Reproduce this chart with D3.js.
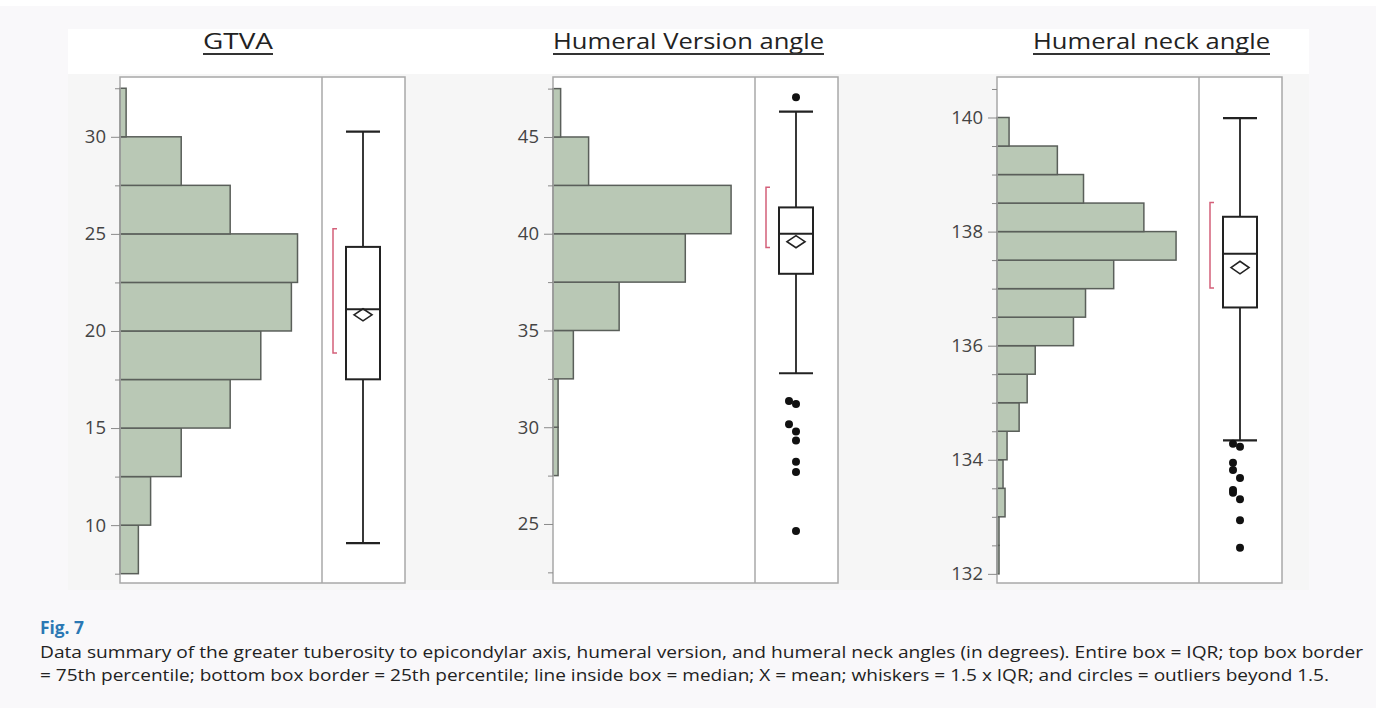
<!DOCTYPE html>
<html>

<head>
    <meta charset="utf-8">
    <script src="https://d3js.org/d3.v7.min.js"></script>
    <style type="text/css">
        body {
            margin: 0;
            background: #f9f8fa;
        }

        .tick text {
            font-family: "Open Sans", sans-serif;
            font-size: 18.5px;
            fill: #444;
        }

        .tick line {
            stroke: #8a8a8a;
        }

        .title {
            font-family: "Open Sans", sans-serif;
            font-size: 21px;
            fill: #222;
            text-anchor: middle;
        }

        .caption {
            font-family: "Open Sans", sans-serif;
            font-size: 16px;
            fill: #222;
        }
    </style>
</head>

<body>
    <div id="my_dataviz"></div>

    <script>
        // ---- data ----
        const titles = ["GTVA", "Humeral Version angle", "Humeral neck angle"];

        // histogram bins (lower edges, bottom -> top) and counts
        const gtvaEdges = [7.5, 10, 12.5, 15, 17.5, 20, 22.5, 25, 27.5, 30, 32.5];
        const gtvaCounts = [3, 5, 10, 18, 23, 28, 29, 18, 10, 1];
        const versionEdges = [27.5, 30, 32.5, 35, 37.5, 40, 42.5, 45, 47.5];
        const versionCounts = [2, 2, 8, 26, 52, 70, 14, 3];
        const neckEdges = [132, 132.5, 133, 133.5, 134, 134.5, 135, 135.5, 136, 136.5, 137, 137.5, 138, 138.5, 139, 139.5, 140];
        const neckCounts = [1, 1, 4, 3, 5, 11, 15, 19, 38, 44, 58, 89, 73, 43, 30, 6];

        // axis ticks
        const gtvaTicks = [10, 15, 20, 25, 30];
        const gtvaMinor = [7.5, 12.5, 17.5, 22.5, 27.5, 32.5];
        const versionTicks = [25, 30, 35, 40, 45];
        const versionMinor = [22.5, 27.5, 32.5, 37.5, 42.5, 47.5];
        const neckTicks = [132, 134, 136, 138, 140];
        const neckMinor = [132.5, 133, 133.5, 134.5, 135, 135.5, 136.5, 137, 137.5, 138.5, 139, 139.5, 140.5];

        // y ranges of the plots
        const gtvaRange = [7.02, 33.08];
        const versionRange = [21.95, 48.1];
        const neckRange = [131.84, 140.71];

        // box: [lower whisker, q1, median, q3, upper whisker]
        const gtvaBox = [9.07, 17.51, 21.12, 24.33, 30.27];
        const versionBox = [32.79, 37.93, 40.0, 41.36, 46.31];
        const neckBox = [134.34, 136.67, 137.61, 138.26, 139.99];

        // mean diamond: [lower CI, mean, upper CI]
        const gtvaMean = [20.52, 20.83, 21.14];
        const versionMean = [39.28, 39.59, 39.9];
        const neckMean = [137.26, 137.37, 137.48];

        // shortest half bracket
        const gtvaShortest = [18.86, 25.26];
        const versionShortest = [39.29, 42.4];
        const neckShortest = [137.01, 138.51];

        // outliers
        const gtvaOutliers = [];
        const versionOutliers = [47.05, 31.36, 31.2, 30.16, 29.78, 29.31, 28.21, 27.69, 24.64];
        const neckOutliers = [134.28, 134.23, 133.95, 133.82, 133.68, 133.47, 133.42, 133.31, 132.94, 132.46];

        const panels = [
            { title: titles[0], edges: gtvaEdges, counts: gtvaCounts, ticks: gtvaTicks, minor: gtvaMinor, range: gtvaRange, box: gtvaBox, mean: gtvaMean, shortest: gtvaShortest, outliers: gtvaOutliers, xMax: 33 },
            { title: titles[1], edges: versionEdges, counts: versionCounts, ticks: versionTicks, minor: versionMinor, range: versionRange, box: versionBox, mean: versionMean, shortest: versionShortest, outliers: versionOutliers, xMax: 79.4 },
            { title: titles[2], edges: neckEdges, counts: neckCounts, ticks: neckTicks, minor: neckMinor, range: neckRange, box: neckBox, mean: neckMean, shortest: neckShortest, outliers: neckOutliers, xMax: 100.4 }
        ];

        // ---- layout ----
        const width = 1376, height = 708;
        const plotTop = 77, plotBottom = 583;
        const histW = 202, boxW = 83;
        const panelLeft = [120, 553, 997];
        const titleX = [238, 688.5, 1151.5];
        const titleW = [70, 271, 237];

        const svg = d3.select("#my_dataviz")
            .append("svg")
            .attr("width", width)
            .attr("height", height);

        // backgrounds
        svg.append("rect").attr("width", width).attr("height", height).attr("fill", "#f9f8fa");
        svg.append("rect").attr("width", width).attr("height", 6).attr("fill", "#ffffff");
        svg.append("rect").attr("x", 68).attr("y", 29).attr("width", 1241).attr("height", 561).attr("fill", "#f6f6f6");
        svg.append("rect").attr("x", 68).attr("y", 29).attr("width", 1241).attr("height", 45).attr("fill", "#ffffff");

        panels.forEach(function (p, i) {
            const left = panelLeft[i];
            const g = svg.append("g");

            const y = d3.scaleLinear().domain(p.range).range([plotBottom, plotTop]);
            const x = d3.scaleLinear().domain([0, p.xMax]).range([left, left + histW]);

            // title + underline
            g.append("text")
                .attr("class", "title")
                .attr("x", titleX[i])
                .attr("y", 49)
                .attr("textLength", titleW[i])
                .attr("lengthAdjust", "spacingAndGlyphs")
                .text(p.title);
            g.append("line")
                .attr("x1", titleX[i] - titleW[i] / 2).attr("x2", titleX[i] + titleW[i] / 2)
                .attr("y1", 54).attr("y2", 54)
                .attr("stroke", "#333").attr("stroke-width", 2);

            // plot area
            g.append("rect")
                .attr("x", left).attr("y", plotTop)
                .attr("width", histW + boxW).attr("height", plotBottom - plotTop)
                .attr("fill", "#ffffff");

            // histogram bars
            const bins = p.counts.map((c, k) => ({ lo: p.edges[k], hi: p.edges[k + 1], c: c }));
            g.selectAll(".bar")
                .data(bins.filter(d => d.c > 0))
                .join("rect")
                .attr("class", "bar")
                .attr("x", left)
                .attr("y", d => y(d.hi))
                .attr("width", d => x(d.c) - left)
                .attr("height", d => y(d.lo) - y(d.hi))
                .attr("fill", "#b9c8b5")
                .attr("stroke", "#5a5f5a")
                .attr("stroke-width", 1.5);

            // frame and divider
            g.append("rect")
                .attr("x", left).attr("y", plotTop)
                .attr("width", histW + boxW).attr("height", plotBottom - plotTop)
                .attr("fill", "none")
                .attr("stroke", "#a8a8a8").attr("stroke-width", 1.5);
            g.append("line")
                .attr("x1", left + histW).attr("x2", left + histW)
                .attr("y1", plotTop).attr("y2", plotBottom)
                .attr("stroke", "#a8a8a8").attr("stroke-width", 1.5);

            // axes
            const ax = g.append("g")
                .attr("transform", `translate(${left},0)`)
                .call(d3.axisLeft(y).tickValues(p.ticks).tickSize(9).tickSizeOuter(0).tickPadding(5));
            ax.select(".domain").remove();
            const minorAx = g.append("g")
                .attr("transform", `translate(${left},0)`)
                .call(d3.axisLeft(y).tickValues(p.minor).tickSize(5).tickSizeOuter(0).tickFormat(""));
            minorAx.select(".domain").remove();

            // box plot
            const cx = left + histW + boxW / 2 - 0.5;
            const bw = 34;
            const b = p.box;
            g.append("line")
                .attr("x1", cx).attr("x2", cx)
                .attr("y1", y(b[0])).attr("y2", y(b[4]))
                .attr("stroke", "#222").attr("stroke-width", 1.8);
            [b[0], b[4]].forEach(function (v) {
                g.append("line")
                    .attr("x1", cx - bw / 2).attr("x2", cx + bw / 2)
                    .attr("y1", y(v)).attr("y2", y(v))
                    .attr("stroke", "#222").attr("stroke-width", 2.2);
            });
            g.append("rect")
                .attr("x", cx - bw / 2).attr("y", y(b[3]))
                .attr("width", bw).attr("height", y(b[1]) - y(b[3]))
                .attr("fill", "#ffffff")
                .attr("stroke", "#222").attr("stroke-width", 2);
            g.append("line")
                .attr("x1", cx - bw / 2).attr("x2", cx + bw / 2)
                .attr("y1", y(b[2])).attr("y2", y(b[2]))
                .attr("stroke", "#222").attr("stroke-width", 2);

            // mean diamond
            const dw = 9;
            const m = p.mean;
            g.append("path")
                .attr("d", `M${cx - dw},${y(m[1])}L${cx},${y(m[2])}L${cx + dw},${y(m[1])}L${cx},${y(m[0])}Z`)
                .attr("fill", "none")
                .attr("stroke", "#222").attr("stroke-width", 1.6);

            // shortest half bracket
            const bx = cx - 30;
            const s = p.shortest;
            g.append("path")
                .attr("d", `M${bx + 4},${y(s[1])}H${bx}V${y(s[0])}H${bx + 4}`)
                .attr("fill", "none")
                .attr("stroke", "#d4607a").attr("stroke-width", 1.5);

            // outliers, nudged sideways when they crowd
            const pts = p.outliers.map(v => ({ v: v, off: 0 }));
            pts.forEach(function (d, k) {
                const next = pts[k + 1];
                if (next && d.off === 0 && Math.abs(y(d.v) - y(next.v)) < 8) d.off = -7;
            });
            g.selectAll(".outlier")
                .data(pts)
                .join("circle")
                .attr("class", "outlier")
                .attr("cx", d => cx + d.off)
                .attr("cy", d => y(d.v))
                .attr("r", 4)
                .attr("fill", "#111");
        });

        // caption
        svg.append("text")
            .attr("x", 40).attr("y", 634)
            .style("font-family", "'Open Sans', sans-serif")
            .style("font-size", "17px")
            .style("font-weight", "bold")
            .attr("fill", "#2b78b4")
            .attr("textLength", 44)
            .attr("lengthAdjust", "spacingAndGlyphs")
            .text("Fig. 7");

        const captionLines = [
            "Data summary of the greater tuberosity to epicondylar axis, humeral version, and humeral neck angles (in degrees). Entire box = IQR; top box border",
            "= 75th percentile; bottom box border = 25th percentile; line inside box = median; X = mean; whiskers = 1.5 x IQR; and circles = outliers beyond 1.5."
        ];
        const captionW = [1323, 1289];
        svg.selectAll(".caption")
            .data(captionLines)
            .join("text")
            .attr("class", "caption")
            .attr("x", 40)
            .attr("y", (d, k) => 658 + k * 23)
            .attr("textLength", (d, k) => captionW[k])
            .attr("lengthAdjust", "spacingAndGlyphs")
            .text(d => d);
    </script>
</body>

</html>
